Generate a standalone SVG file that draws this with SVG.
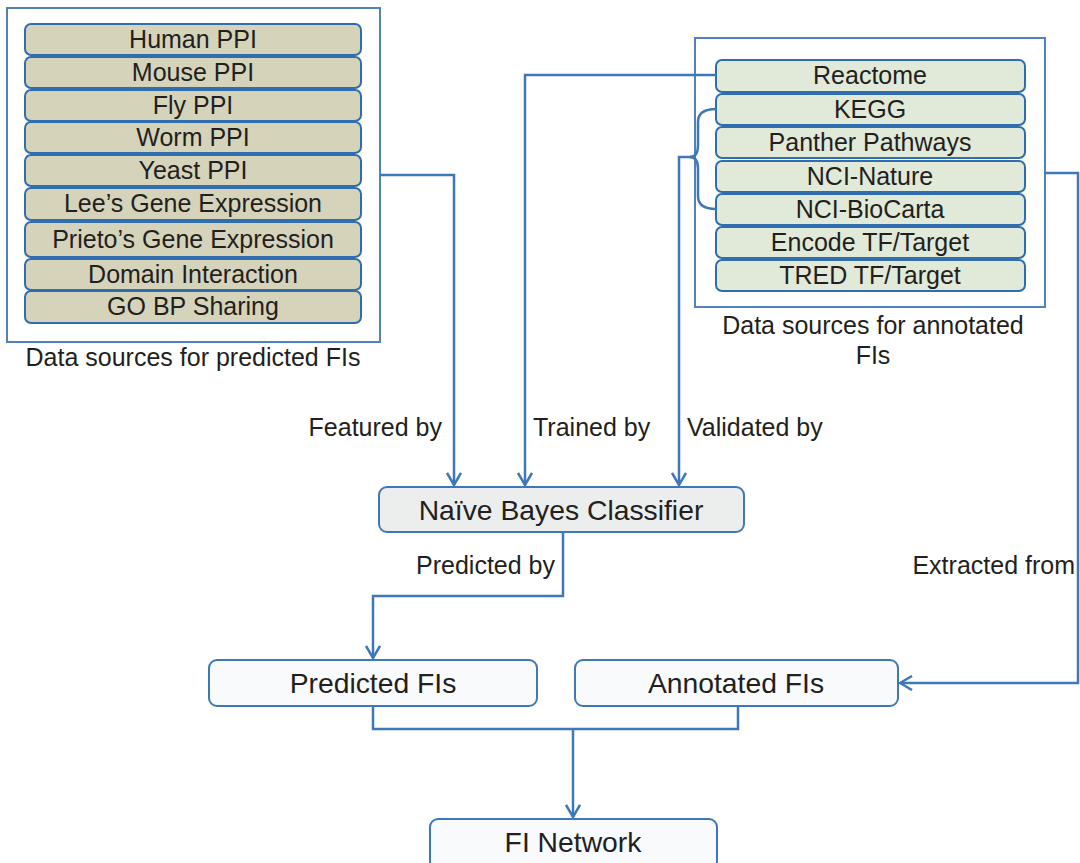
<svg xmlns="http://www.w3.org/2000/svg" width="1080" height="863" viewBox="0 0 1080 863">
  <style>
    text { font-family: "Liberation Sans", Arial, sans-serif; fill: #231f20; text-anchor: middle; }
    .t24 { font-size: 25px; }
    .t28 { font-size: 28.3px; }
    .lbl { font-size: 25px; }
    .frame { fill: #ffffff; stroke: #4f82c0; stroke-width: 2; }
    .src-p { fill: #d6d3bb; stroke: #2f6dae; stroke-width: 2; }
    .src-a { fill: #e1e9d9; stroke: #2f6dae; stroke-width: 2; }
    .node { stroke: #3f78b8; stroke-width: 2; }
    .wire { fill: none; stroke: #3f78b8; stroke-width: 2.5; }
  </style>
  <defs>
    <marker id="arr" viewBox="0 0 14 16" refX="13" refY="8" markerWidth="14" markerHeight="16" markerUnits="userSpaceOnUse" orient="auto">
      <path d="M1,1 L13,8 L1,15" fill="none" stroke="#3f78b8" stroke-width="2.5"/>
    </marker>
  </defs>
  <rect width="1080" height="863" fill="#ffffff"/>

  <!-- Sources used as classifier features -->
  <g id="predicted-sources">
    <rect class="frame" x="7" y="8" width="373" height="334"/>
    <rect class="src-p" x="25" y="24" width="336" height="31" rx="6"/>
    <text class="t24" x="193" y="48">Human PPI</text>
    <rect class="src-p" x="25" y="57" width="336" height="31" rx="6"/>
    <text class="t24" x="193" y="81">Mouse PPI</text>
    <rect class="src-p" x="25" y="90" width="336" height="31" rx="6"/>
    <text class="t24" x="193" y="114">Fly PPI</text>
    <rect class="src-p" x="25" y="122" width="336" height="31" rx="6"/>
    <text class="t24" x="193" y="146">Worm PPI</text>
    <rect class="src-p" x="25" y="155" width="336" height="31" rx="6"/>
    <text class="t24" x="193" y="179">Yeast PPI</text>
    <rect class="src-p" x="25" y="188" width="336" height="32" rx="6"/>
    <text class="t24" x="193" y="212">Lee’s Gene Expression</text>
    <rect class="src-p" x="25" y="222" width="336" height="35" rx="6"/>
    <text class="t24" x="193" y="248">Prieto’s Gene Expression</text>
    <rect class="src-p" x="25" y="259" width="336" height="31" rx="6"/>
    <text class="t24" x="193" y="283">Domain Interaction</text>
    <rect class="src-p" x="25" y="291" width="336" height="32" rx="6"/>
    <text class="t24" x="193" y="315">GO BP Sharing</text>
    <text class="t24" x="193" y="366">Data sources for predicted FIs</text>
  </g>

  <!-- Curated pathway and TF/target sources -->
  <g id="annotated-sources">
    <rect class="frame" x="695" y="38" width="350" height="269"/>
    <rect class="src-a" x="716" y="60" width="309" height="32" rx="6"/>
    <text class="t24" x="870" y="84">Reactome</text>
    <rect class="src-a" x="716" y="94" width="309" height="31" rx="6"/>
    <text class="t24" x="870" y="118">KEGG</text>
    <rect class="src-a" x="716" y="127" width="309" height="31" rx="6"/>
    <text class="t24" x="870" y="151">Panther Pathways</text>
    <rect class="src-a" x="716" y="161" width="309" height="31" rx="6"/>
    <text class="t24" x="870" y="185">NCI-Nature</text>
    <rect class="src-a" x="716" y="194" width="309" height="31" rx="6"/>
    <text class="t24" x="870" y="218">NCI-BioCarta</text>
    <rect class="src-a" x="716" y="227" width="309" height="31" rx="6"/>
    <text class="t24" x="870" y="251">Encode TF/Target</text>
    <rect class="src-a" x="716" y="260" width="309" height="31" rx="6"/>
    <text class="t24" x="870" y="284">TRED TF/Target</text>
    <text class="t24" x="873" y="334">Data sources for annotated</text>
    <text class="t24" x="873" y="364">FIs</text>
  </g>

  <g id="naive-bayes">
    <rect class="node" x="379" y="487" width="365" height="45" rx="8" fill="#ebeeed"/>
    <text class="t28" x="561" y="520">Naïve Bayes Classifier</text>
  </g>

  <g id="predicted-fis">
    <rect class="node" x="209" y="660" width="328" height="46" rx="8" fill="#f9fafc"/>
    <text class="t28" x="373" y="693">Predicted FIs</text>
  </g>

  <g id="annotated-fis">
    <rect class="node" x="575" y="660" width="323" height="46" rx="8" fill="#f9fafc"/>
    <text class="t28" x="736" y="693">Annotated FIs</text>
  </g>

  <g id="fi-network">
    <rect class="node" x="430" y="819" width="287" height="50" rx="8" fill="#f9fafc"/>
    <text class="t28" x="573" y="852">FI Network</text>
  </g>

  <g id="connectors">
    <!-- features -->
    <path class="wire" d="M380,175 H454 V485" marker-end="url(#arr)"/>
    <!-- training set from Reactome -->
    <path class="wire" d="M716,75 H525 V485" marker-end="url(#arr)"/>
    <!-- validation bracket over KEGG .. NCI-BioCarta -->
    <path class="wire" d="M716,109 Q698,109 698,122 V145 Q698,157 690,157 Q698,157 698,169 V196 Q698,209 716,209"/>
    <path class="wire" d="M692,157 H679 V485" marker-end="url(#arr)"/>
    <!-- extraction of annotated FIs -->
    <path class="wire" d="M1045,173 H1078 V683 H900" marker-end="url(#arr)"/>
    <!-- prediction -->
    <path class="wire" d="M563,532 V596 H373 V658" marker-end="url(#arr)"/>
    <!-- merge into network -->
    <path class="wire" d="M373,706 V729 H738 V706"/>
    <path class="wire" d="M573,729 V817" marker-end="url(#arr)"/>

    <text class="lbl" x="442" y="436" style="text-anchor:end">Featured by</text>
    <text class="lbl" x="533" y="436" style="text-anchor:start">Trained by</text>
    <text class="lbl" x="687" y="436" style="text-anchor:start">Validated by</text>
    <text class="lbl" x="555" y="574" style="text-anchor:end">Predicted by</text>
    <text class="lbl" x="1075" y="574" style="text-anchor:end">Extracted from</text>
  </g>
</svg>
